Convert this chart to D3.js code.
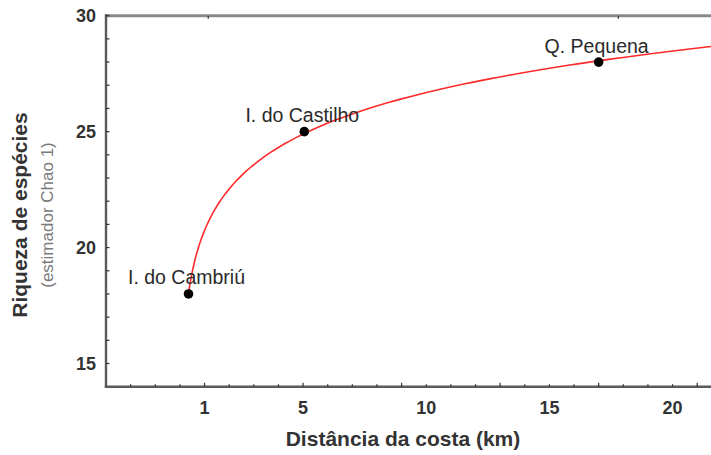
<!DOCTYPE html>
<html>
<head>
<meta charset="utf-8">
<script src="https://cdn.jsdelivr.net/npm/d3@7"></script>
<style>
  html, body { margin: 0; padding: 0; background: #fff; }
  svg { display: block; }
  text { font-family: "Liberation Sans", Arial, sans-serif; }
</style>
</head>
<body>
<svg id="chart" width="711" height="455"></svg>
<script>
// ---- data ----
const sites = ["I. do Cambriú", "I. do Castilho", "Q. Pequena"];
const distance = [0.35, 5.05, 17.0];          // km
const richness = [18.0, 25.0, 28.0];           // Chao 1 estimate
const xTickLabels = [1, 5, 10, 15, 20];
const xMajorTicks = [1, 5, 9, 13, 17, 21];
const yTickLabels = [15, 20, 25, 30];
const topTicks = [1.15, 17.8];

(function () {
// ---- layout ----
const svg = d3.select("#chart");
const pLeft = 106, pTop = 15.7, pBottom = 386.7, pRight = 711;
const x = d3.scaleLinear().domain([-3, 21.56]).range([pLeft, pRight]);
const y = d3.scaleLinear().domain([14, 30]).range([pBottom, pTop]);

// ---- log fit (least squares on ln x) ----
const lx = distance.map(Math.log);
const mx = d3.mean(lx), my = d3.mean(richness);
let sxx = 0, sxy = 0;
lx.forEach((v, i) => { sxx += (v - mx) ** 2; sxy += (v - mx) * (richness[i] - my); });
const b = sxy / sxx, a = my - b * mx;
const x0 = d3.min(distance), x1 = x.domain()[1];
const fitPts = d3.range(0, 201).map(i => {
  const xv = x0 * Math.pow(x1 / x0, i / 200);
  return [xv, a + b * Math.log(xv)];
});

svg.append("path")
  .datum(fitPts)
  .attr("d", d3.line().x(d => x(d[0])).y(d => y(d[1])))
  .attr("fill", "none")
  .attr("stroke", "#ff2a2a")
  .attr("stroke-width", 1.6);

// ---- axes ----
const axisColor = "#5a5a5a";
svg.append("line").attr("x1", pLeft).attr("x2", pRight).attr("y1", pTop).attr("y2", pTop)
  .attr("stroke", "#8a8a8a").attr("stroke-width", 3);
svg.selectAll(".tt").data(topTicks).enter().append("line")
  .attr("x1", d => x(d)).attr("x2", d => x(d)).attr("y1", pTop).attr("y2", pTop + 3)
  .attr("stroke", "#333").attr("stroke-width", 1.2);

svg.append("line").attr("x1", pLeft).attr("x2", pLeft).attr("y1", pTop - 1.5).attr("y2", pBottom)
  .attr("stroke", axisColor).attr("stroke-width", 2.4);
svg.selectAll(".yt").data(d3.range(15, 31)).enter().append("line")
  .attr("x1", pLeft).attr("x2", pLeft + 3.5).attr("y1", d => y(d)).attr("y2", d => y(d))
  .attr("stroke", "#333").attr("stroke-width", 1.2);
svg.selectAll(".yl").data(yTickLabels).enter().append("text")
  .attr("x", 96).attr("y", d => y(d)).attr("dy", "0.36em")
  .attr("text-anchor", "end").attr("font-size", 18).attr("font-weight", "bold")
  .attr("fill", "#333").text(d => d);

svg.append("line").attr("x1", pLeft - 1.2).attr("x2", pRight).attr("y1", pBottom).attr("y2", pBottom)
  .attr("stroke", axisColor).attr("stroke-width", 2.4);
svg.selectAll(".xt").data(d3.range(-2, 22)).enter().append("line")
  .attr("x1", d => x(d)).attr("x2", d => x(d)).attr("y1", pBottom)
  .attr("y2", d => pBottom - (xMajorTicks.includes(d) ? 4 : 2.5))
  .attr("stroke", "#333").attr("stroke-width", 1.2);
svg.selectAll(".xl").data(xTickLabels).enter().append("text")
  .attr("x", d => x(d)).attr("y", 414)
  .attr("text-anchor", "middle").attr("font-size", 18).attr("font-weight", "bold")
  .attr("fill", "#333").text(d => d);

// titles
svg.append("text").attr("x", 403).attr("y", 446).attr("text-anchor", "middle")
  .attr("font-size", 21).attr("font-weight", "bold").attr("fill", "#333")
  .text("Distância da costa (km)");
svg.append("text").attr("transform", "translate(27,215) rotate(-90)")
  .attr("text-anchor", "middle").attr("font-size", 21).attr("font-weight", "bold")
  .attr("fill", "#333").text("Riqueza de espécies");
svg.append("text").attr("transform", "translate(53,215) rotate(-90)")
  .attr("text-anchor", "middle").attr("font-size", 17)
  .attr("fill", "#7a7a7a").text("(estimador Chao 1)");

// ---- points & labels ----
const pts = sites.map((s, i) => ({ s, d: distance[i], r: richness[i] }));
svg.selectAll(".pt").data(pts).enter().append("circle")
  .attr("cx", d => x(d.d)).attr("cy", d => y(d.r)).attr("r", 4.8).attr("fill", "#000");
svg.selectAll(".lb").data(pts).enter().append("text")
  .attr("x", d => x(d.d) - 2).attr("y", d => y(d.r) - 9.5)
  .attr("text-anchor", "middle").attr("font-size", 19.5).attr("fill", "#2a2a2a")
  .text(d => d.s);
})();
</script>
</body>
</html>
